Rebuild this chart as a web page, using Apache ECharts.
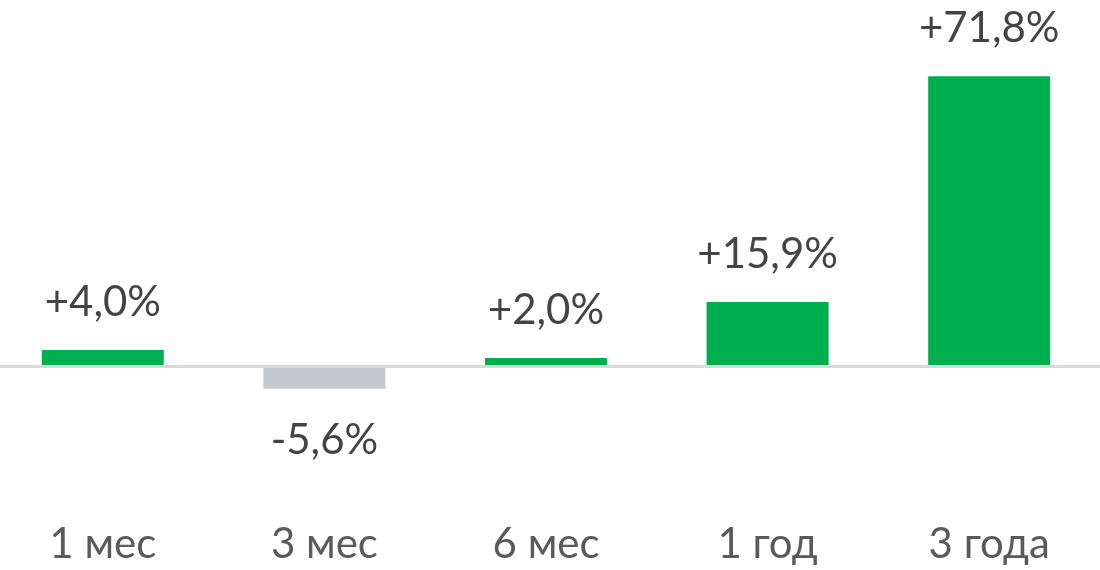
<!DOCTYPE html>
<html>
<head>
<meta charset="utf-8">
<script src="https://cdn.jsdelivr.net/npm/echarts@6/dist/echarts.min.js"></script>
<style>
html,body{margin:0;padding:0;background:#fff;overflow:hidden;}
#chart{width:1108px;height:570px;margin-left:-8px;}
</style>
</head>
<body>
<div id="chart"></div>
<script>
const categories = ['1 мес', '3 мес', '6 мес', '1 год', '3 года'];
const values = [4.0, -5.6, 2.0, 15.9, 71.8];

const GREEN = '#00b050';
const GREY = '#c4c8cc';
const FONT = 'Lato';

function fmt(v) {
  return (v > 0 ? '+' : '') + v.toFixed(1).replace('.', ',') + '%';
}

const chart = echarts.init(document.getElementById('chart'));
chart.setOption({
  animation: false,
  backgroundColor: '#ffffff',
  grid: { left: 0, right: 0, top: 43, bottom: 123, containLabel: false },
  xAxis: {
    type: 'category',
    data: categories,
    axisLine: { show: false, onZero: false },
    axisTick: { show: false },
    axisLabel: {
      margin: 76,
      fontFamily: FONT,
      fontSize: 42,
      fontWeight: 400,
      color: '#5a5a5a'
    }
  },
  yAxis: {
    type: 'value',
    min: -20,
    max: 80,
    show: false,
    splitLine: { show: false }
  },
  series: [{
    type: 'bar',
    barWidth: 122,
    data: values.map(v => ({
      value: v,
      itemStyle: { color: v >= 0 ? GREEN : GREY },
      label: { position: v >= 0 ? 'top' : 'bottom', distance: v >= 0 ? 27 : 31 }
    })),
    label: {
      show: true,
      fontFamily: FONT,
      fontSize: 42,
      fontWeight: 400,
      color: '#444444',
      formatter: p => fmt(p.value)
    },
    markLine: {
      silent: true,
      symbol: 'none',
      label: { show: false },
      lineStyle: { color: '#d9d9d9', width: 3, type: 'solid' },
      data: [{ yAxis: 0 }]
    }
  }]
});
</script>
</body>
</html>
